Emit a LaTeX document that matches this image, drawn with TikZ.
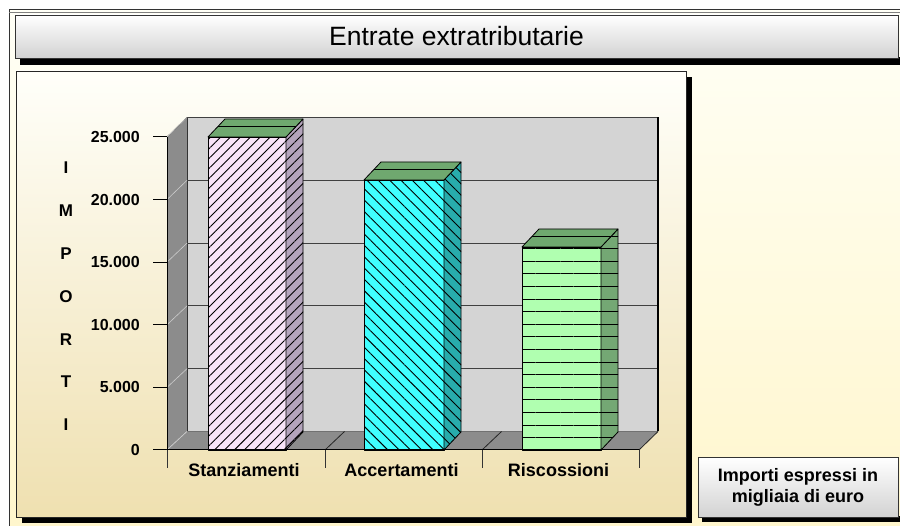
\documentclass[tikz,border=0pt]{standalone}
\usepackage{fontspec}
\setmainfont{Liberation Sans}
\usetikzlibrary{patterns.meta}
\definecolor{floorgray}{HTML}{8C8C8C}
\definecolor{wallgray}{HTML}{D4D4D4}
\definecolor{topgreen}{HTML}{6FA86F}
\definecolor{pinkfront}{HTML}{F8E4F8}
\definecolor{pinkside}{HTML}{B4A4BC}
\definecolor{cyanfront}{HTML}{40FFFF}
\definecolor{cyanside}{HTML}{28ACAC}
\definecolor{greenfront}{HTML}{B0FFB0}
\definecolor{greenside}{HTML}{74A874}
\definecolor{creamtop}{HTML}{FFFFF6}
\definecolor{creambot}{HTML}{FFF6CC}
\definecolor{paneltop}{HTML}{FFFFFA}
\definecolor{panelbot}{HTML}{EFE0B0}
\definecolor{btntop}{HTML}{FFFFFF}
\definecolor{btnbot}{HTML}{D2D2D2}
\tikzset{
  barline/.style={draw=black, line width=0.8pt, line join=round},
  gridline/.style={draw=black!75, line width=0.8pt},
  sidediag/.style={draw=black!20, line width=0.6pt},
  axisline/.style={draw=black, line width=1pt},
  ylab/.style={font=\fontsize{16}{18}\selectfont\bfseries, inner sep=0pt},
  catlab/.style={font=\fontsize{18}{20}\selectfont\bfseries, inner sep=0pt, anchor=base},
  vlab/.style={font=\fontsize{17}{19}\selectfont\bfseries, inner sep=0pt},
  button/.style={draw=black!80, line width=0.8pt, top color=btntop, bottom color=btnbot, inner sep=0pt},
  shadowbox/.style={fill=black},
}
\newcommand\chartbar[8]{%
  % #1 name, #2 x1, #3 x2, #4 ytop, #5 front colour, #6 side colour, #7 pattern, #8 unused
  \path[fill=#5] (#2,#4) rectangle (#3,450);
  \path[pattern={#7}, pattern color=black] (#2,#4) rectangle (#3,450);
  \draw[barline] (#2,#4) rectangle (#3,450);
  \path[fill=#6] (#3,450) -- ({#3+17},432) -- ({#3+17},{#4-18}) -- (#3,#4) -- cycle;
  \path[pattern={#7}, pattern color=black] (#3,450) -- ({#3+17},432) -- ({#3+17},{#4-18}) -- (#3,#4) -- cycle;
  \draw[barline] (#3,450) -- ({#3+17},432) -- ({#3+17},{#4-18}) -- (#3,#4) -- cycle;
  \draw[barline, fill=topgreen] (#2,#4) -- (#3,#4) -- ({#3+17},{#4-18}) -- ({#2+17},{#4-18}) -- cycle;
  \draw[black, line width=0.8pt] ({#2+10},{#4-11}) -- ({#3+10},{#4-11});
  \coordinate (#1) at ({(#2+#3)/2},#4);
}
\begin{document}
\begin{tikzpicture}[x=1pt,y=-1pt]
\useasboundingbox (0,0) rectangle (900,526);
\fill[white] (0,0) rectangle (900,526);
% outer frame
\path[top color=creamtop, bottom color=creambot] (9,10) rectangle (906,532);
\draw[black!80, line width=1pt] (9,10) rectangle (906,532);
\draw[black!50, line width=0.6pt] (9,12.5) -- (906,12.5);
% title bar
\fill[shadowbox] (20,57) rectangle (900,65);
\node[button, minimum width=883pt, minimum height=43pt,
      font=\fontsize{26.5}{30}\selectfont] (title) at (456.5,36.5) {Entrate extratributarie};
% chart panel
\fill[shadowbox] (686,77) rectangle (692,523);
\fill[shadowbox] (22,517) rectangle (692,523);
\path[top color=paneltop, bottom color=panelbot] (16,71) rectangle (686,517);
\draw[black!85, line width=0.8pt] (16,71) rectangle (686,517);
% note box
\fill[shadowbox] (702,516) rectangle (900,522);
\node[button, minimum width=200pt, minimum height=60pt, align=center,
      font=\fontsize{18}{21}\selectfont\bfseries] (note) at (798,487.5)
      {Importi espressi in\\migliaia di euro};
% side wall
\path[fill=floorgray] (167,450) -- (187,431.5) -- (187,117.5) -- (167,137) -- cycle;
\draw[black!70, line width=0.8pt] (167,137) -- (187,117.5);
% back wall
\path[fill=wallgray] (187,117.5) rectangle (658,431.5);
\draw[black!80, line width=0.8pt] (187,431.5) -- (187,117.5) -- (658,117.5);
% grid
\foreach \i/\t in {0/0,1/5.000,2/10.000,3/15.000,4/20.000,5/25.000}{
  \pgfmathsetmacro\yf{450-62.6*\i}
  \pgfmathsetmacro\yb{431.5-62.8*\i}
  \draw[gridline] (187,\yb) -- (658,\yb);
  \draw[sidediag] (167,\yf) -- (187,\yb);
  \draw[axisline] (153,\yf) -- (167,\yf);
  \node[ylab, anchor=east] (yl\i) at (140,\yf) {\t};
}
% floor
\path[fill=floorgray] (167,450) -- (639,450) -- (658,431.5) -- (187,431.5) -- cycle;
\draw[sidediag] (167,450) -- (187,431.5);
\draw[black!85, line width=0.8pt] (325,450) -- (344.5,431.5);
\draw[black!85, line width=0.8pt] (482,450) -- (501.5,431.5);
\draw[black!85, line width=0.8pt] (639,450) -- (658,431.5);
\draw[black, line width=1.6pt] (658,117.5) -- (658,431.5);
% bars
\chartbar{b1}{208}{286}{137}{pinkfront}{pinkside}{Lines[angle=45,distance=7pt,line width=0.9pt]}{}
\chartbar{b2}{364}{444}{180}{cyanfront}{cyanside}{Lines[angle=-45,distance=8pt,line width=0.9pt]}{}
\chartbar{b3}{522}{601}{247}{greenfront}{greenside}{Lines[angle=0,distance=12.6pt,line width=1pt]}{}
% axes
\draw[axisline] (167,137) -- (167,450);
\draw[axisline] (167,450) -- (639,450);
\foreach \x in {167,325,482,639}{
  \draw[black!80, line width=1pt] (\x,450) -- (\x,468);
}
% category labels
\node[catlab] (c1) at (244,477) {Stanziamenti};
\node[catlab] (c2) at (401.5,477) {Accertamenti};
\node[catlab] (c3) at (558.5,477) {Riscossioni};
% vertical axis title
\foreach \c [count=\k] in {I,M,P,O,R,T,I}{
  \node[vlab] (v\k) at (66,{168+42.8*(\k-1)}) {\c};
}
\end{tikzpicture}
\end{document}
